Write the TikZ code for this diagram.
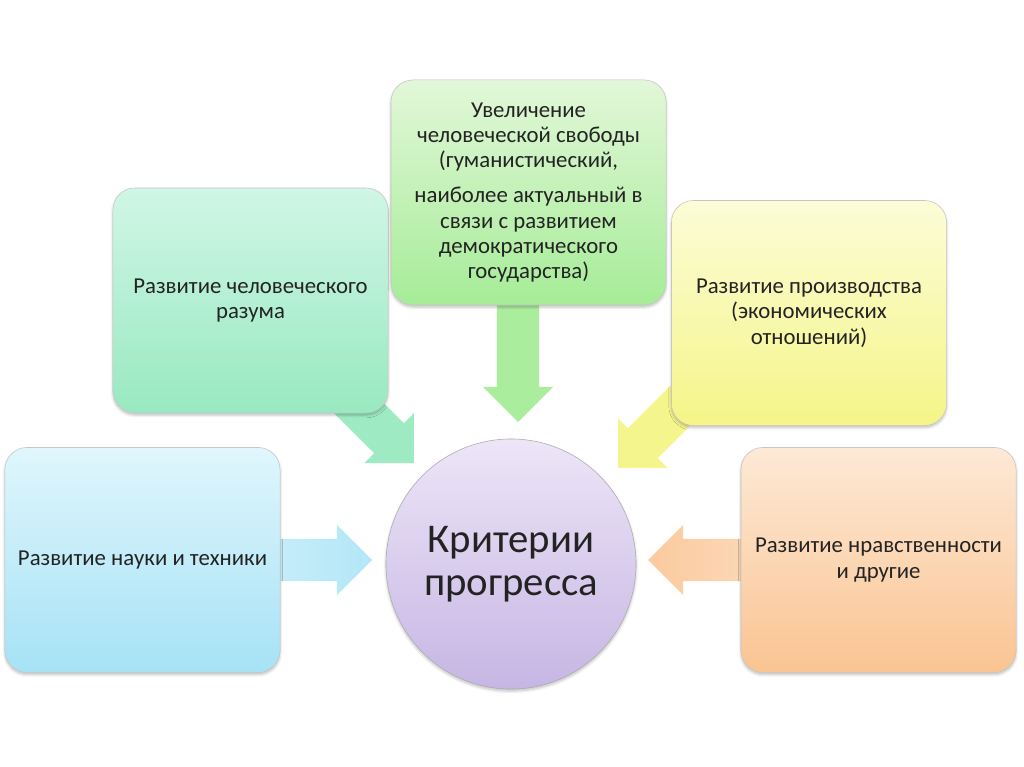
\documentclass[tikz,border=0pt]{standalone}
\usepackage{fontspec}
\setmainfont{Carlito}
\usetikzlibrary{calc, backgrounds, shadows.blur}
\definecolor{sciTop}{RGB}{224,246,252}
\definecolor{sciBot}{RGB}{166,226,246}
\definecolor{reasonTop}{RGB}{208,246,230}
\definecolor{reasonBot}{RGB}{152,233,192}
\definecolor{freeTop}{RGB}{226,247,216}
\definecolor{freeBot}{RGB}{166,236,152}
\definecolor{prodTop}{RGB}{252,252,216}
\definecolor{prodBot}{RGB}{245,245,136}
\definecolor{moralTop}{RGB}{253,233,214}
\definecolor{moralBot}{RGB}{250,196,146}
\definecolor{critTop}{RGB}{237,229,247}
\definecolor{critBot}{RGB}{198,182,228}
\definecolor{crInk}{RGB}{35,35,35}

% block arrow from #1 to the tip #2, fill options #3
\newcommand\flow[3]{%
  \path[#3] let \p1=(#1), \p2=(#2), \n1={atan2(\y2-\y1,\x2-\x1)} in
    ($(\p1)+(\n1+90:15pt)$)
    -- ($(\p2)+(\n1+180:25pt)+(\n1+90:15pt)$)
    -- ($(\p2)+(\n1+180:25pt)+(\n1+90:25pt)$)
    -- (\p2)
    -- ($(\p2)+(\n1+180:25pt)+(\n1-90:25pt)$)
    -- ($(\p2)+(\n1+180:25pt)+(\n1-90:15pt)$)
    -- ($(\p1)+(\n1-90:15pt)$) -- cycle;}

\begin{document}
\begin{tikzpicture}[x=0.025cm, y=-0.025cm, text=crInk,
  crit/.style={draw=gray!45, rounded corners=0.55cm,
               minimum width=6.875cm, minimum height=5.625cm,
               align=center, font=\fontsize{16.2}{18}\selectfont,
               blur shadow={shadow xshift=0pt, shadow yshift=-1.5pt,
                            shadow opacity=25, shadow blur steps=5}},
  hub/.style={circle, draw=gray!65, minimum size=6.25cm, align=center,
              font=\fontsize{29}{31}\selectfont,
              blur shadow={shadow xshift=0pt, shadow yshift=-1.5pt,
                           shadow opacity=25, shadow blur steps=5}}]
\useasboundingbox (0,0) rectangle (1024,767);

\node[hub, top color=critTop, bottom color=critBot]
   (hub) at (511,564) {Критерии\\прогресса};

\node[crit, top color=sciTop, bottom color=sciBot]
   (sci) at (142.5,560) {Развитие науки и техники};
\node[crit, top color=reasonTop, bottom color=reasonBot]
   (reason) at (250.5,300.5) {Развитие человеческого\\разума};
\node[crit, top color=freeTop, bottom color=freeBot]
   (free) at (528.5,192.5) {Увеличение\\человеческой свободы\\(гуманистический,\\[7pt]
                            наиболее актуальный в\\связи с развитием\\демократического\\государства)};
\node[crit, top color=prodTop, bottom color=prodBot]
   (prod) at (809,313) {Развитие производства\\(экономических\\отношений)};
\node[crit, top color=moralTop, bottom color=moralBot]
   (moral) at (878.5,560) {Развитие нравственности\\и другие};

% arrow tips and hidden tails
\coordinate (sciTip) at (372,560);
\coordinate (reasonTip) at (414,463);
\coordinate (freeOut) at (518,250);
\coordinate (freeTip) at (518,422);
\coordinate (prodOut) at (740,346);
\coordinate (prodTip) at (618,468);
\coordinate (moralTip) at (648,560);

\begin{scope}[on background layer]
\flow{sci.center}{sciTip}{left color=sciTop, right color=sciBot!85}
\flow{reason.center}{reasonTip}{fill=reasonBot!95}
\flow{freeOut}{freeTip}{fill=freeBot!95}
\flow{prodOut}{prodTip}{fill=prodBot!95}
\flow{moral.center}{moralTip}{left color=moralBot!90, right color=moralTop}
\end{scope}
\end{tikzpicture}
\end{document}
